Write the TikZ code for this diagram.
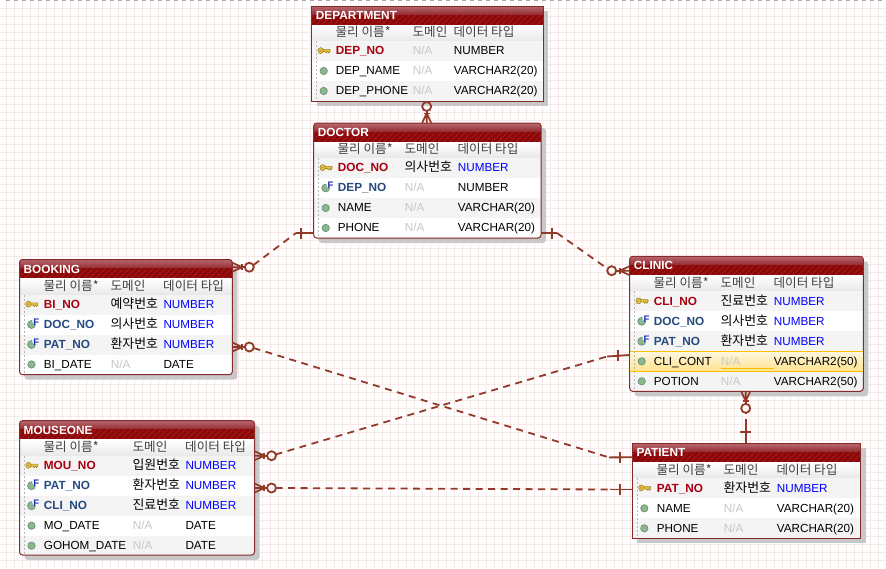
\documentclass[tikz,border=0pt]{standalone}
\usepackage{fontspec}
\setmainfont{Liberation Sans}
\newfontfamily\krfont{Noto Sans CJK KR}
\usetikzlibrary{patterns.meta}
\definecolor{gridc}{HTML}{F8E9E9}
\definecolor{relc}{HTML}{913A2A}
\definecolor{edgec}{HTML}{862A2A}
\definecolor{shadowc}{HTML}{C8C8C8}
\definecolor{titletop}{HTML}{B8686E}
\definecolor{titlemid}{HTML}{952F35}
\definecolor{titlelow}{HTML}{8A0808}
\definecolor{stripec}{HTML}{A01818}
\definecolor{rowc}{HTML}{F4F4F4}
\definecolor{pkc}{HTML}{A80010}
\definecolor{fkc}{HTML}{264A80}
\definecolor{nac}{HTML}{C8C8C8}
\definecolor{hdrc}{HTML}{404040}
\definecolor{ballc}{HTML}{8DB68F}
\definecolor{balle}{HTML}{5F8F70}
\definecolor{keyc}{HTML}{EBC242}
\definecolor{keye}{HTML}{A08428}
\definecolor{hilite}{HTML}{FFC000}
\tikzset{
  x=1pt,y=-1pt,
  gridline/.style={gridc,line width=1pt},
  tablebox/.style={draw=edgec,line width=1pt,inner sep=0pt,outer sep=0pt,anchor=north west},
  titletext/.style={font=\bfseries\fontsize{11.8}{12}\selectfont,white,anchor=base west,inner sep=0pt},
  hdrtext/.style={font=\krfont\fontsize{12.6}{12}\selectfont,hdrc,anchor=base west,inner sep=0pt},
  celltext/.style={font=\fontsize{11.7}{12}\selectfont,anchor=base west,inner sep=0pt},
  celltextb/.style={font=\bfseries\fontsize{11.8}{12}\selectfont,anchor=base west,inner sep=0pt},
  domtext/.style={font=\krfont\fontsize{12.9}{12}\selectfont,anchor=base west,inner sep=0pt},
  rel/.style={relc,line width=1.8pt},
  reldash/.style={rel,dash pattern=on 7pt off 5.5pt},
}
% \ertablestart{id}{title}{x0}{y0}{x1}{y1}{radius}{namex}{domx}{typex}{nrows}
\newcommand{\ertablestart}[6]{\gdef\curid{#1}\gdef\curtitle{#2}%
  \gdef\curxa{#3}\gdef\curya{#4}\gdef\curxb{#5}\gdef\curyb{#6}\ertablecont}
\newcommand{\ertablecont}[5]{%
  \gdef\curnx{#2}\gdef\curdx{#3}\gdef\curtx{#4}\gdef\currow{0}%
  \pgfmathsetmacro{\tmid}{\curya+8}%
  \pgfmathsetmacro{\tend}{\curya+19}%
  \pgfmathsetmacro{\hend}{\curya+35}%
  \xdef\curhend{\hend}%
  \fill[shadowc,rounded corners=#1] (\curxa+5,\curya+5) rectangle (\curxb+5,\curyb+5);
  \begin{scope}
    \clip[rounded corners=#1] (\curxa,\curya) rectangle (\curxb,\curyb);
    \fill[white] (\curxa,\curya) rectangle (\curxb,\curyb);
    \fill[titlelow] (\curxa,\tmid) rectangle (\curxb,\tend);
    \fill[pattern={Lines[angle=45,distance=4pt,line width=1.6pt]},pattern color=stripec] (\curxa,\tmid) rectangle (\curxb,\tend);
    \shade[top color=titletop,bottom color=titlemid] (\curxa,\curya) rectangle (\curxb,\tmid);
    \shade[top color=white,bottom color=black!9] (\curxa,\tend) rectangle (\curxb,\hend);
    \foreach \r in {1,3,...,#5}{
      \fill[rowc] (\curxa,\hend+20*\r-20) rectangle (\curxb,\hend+20*\r);
    }
  \end{scope}
  \draw[black!28,line width=1pt,dash pattern=on 2pt off 2pt] (\curxa+5,\hend) -- (\curxa+5,\curyb);
  \pgfmathsetmacro{\bw}{\curxb-\curxa}%
  \pgfmathsetmacro{\bh}{\curyb-\curya}%
  \node[tablebox,rounded corners=#1,minimum width=\bw pt,minimum height=\bh pt] (\curid) at (\curxa,\curya) {};
  \node[titletext] (\curid-title) at (\curxa+4,\curya+13.5) {\curtitle};
  \node[hdrtext] (\curid-h1) at (\curnx-.3,\tend+11.7) {물리 이름*};
  \node[hdrtext] (\curid-h2) at (\curdx-.3,\tend+11.7) {도메인};
  \node[hdrtext] (\curid-h3) at (\curtx-.3,\tend+11.7) {데이터 타입};
}
% \ertrow{k|f|o}{name}{domain or empty}{type}
\newcommand{\ertrow}[4]{%
  \pgfmathtruncatemacro{\nr}{\currow+1}\xdef\currow{\nr}%
  \pgfmathsetmacro{\ry}{\curhend+20*\nr-20}%
  \pgfmathsetmacro{\rc}{\ry+10}%
  \pgfmathsetmacro{\rb}{\ry+13.8}%
  \pgfmathsetmacro{\ix}{\curxa+12.3}%
  \def\kindarg{#1}\def\kk{k}\def\kf{f}%
  \ifx\kindarg\kk
    \fill[keyc,draw=keye,line width=.6pt] (\ix-1.5,\rc-1.6) -- (\ix+6,\rc-1.6) -- (\ix+6,\rc+.5) -- (\ix+4.8,\rc+2) -- (\ix+3.6,\rc+.5) -- (\ix+2.4,\rc+2) -- (\ix+1.2,\rc+.5) -- (\ix-1.5,\rc+.5) -- cycle;
    \fill[keyc,draw=keye,line width=.6pt] (\ix-3.4,\rc-.4) ellipse[x radius=2.6pt,y radius=3pt];
    \fill[keye] (\ix-3.8,\rc-.4) circle[radius=.8pt];
    \node[celltextb,pkc] (\curid-r\nr-n) at (\curnx,\rb) {#2};
  \else\ifx\kindarg\kf
    \fill[ballc,draw=balle,line width=.6pt] (\ix-.3,\rc) circle[radius=4pt];
    \fill[white] (\ix+3.8,\rc-3.4) circle[radius=3.4pt];
    \node[inner sep=0pt,anchor=base west,font=\bfseries\fontsize{9.5}{9}\selectfont,fkc!60!blue] (\curid-r\nr-f) at (\ix+1.3,\rc+0.8) {F};
    \node[celltextb,fkc] (\curid-r\nr-n) at (\curnx,\rb) {#2};
  \else
    \fill[ballc,draw=balle,line width=.6pt] (\ix-.3,\rc) circle[radius=3.7pt];
    \node[celltext,black] (\curid-r\nr-n) at (\curnx,\rb) {#2};
  \fi\fi
  \def\domarg{#3}%
  \ifx\domarg\empty
    \node[celltext,nac] (\curid-r\nr-d) at (\curdx,\rb) {N/A};
    \node[celltext,black] (\curid-r\nr-t) at (\curtx,\rb) {#4};
  \else
    \node[domtext,black] (\curid-r\nr-d) at (\curdx-.3,\rb) {#3};
    \node[celltext,blue] (\curid-r\nr-t) at (\curtx,\rb) {#4};
  \fi
}
% crow's foot with circle at table edge point #2, pointing away at angle #3
\newcommand{\linkcrow}[3][17]{%
  \begin{scope}[shift={(#2)},rotate=#3]
    \draw[rel,line width=1.7pt] (0,0) -- (10,0) (0,4.5) -- (10,0) (0,-4.5) -- (10,0);
    \draw[rel,line width=1.6pt] (9.5,-3.2) -- (9.5,3.2);
    \draw[rel] (10,0) -- (#1-4.5,0);
    \draw[rel] (#1,0) circle[radius=4.5pt];
  \end{scope}}
% one-bar at distance #3 from table edge point #1
\newcommand{\linkbar}[3]{%
  \begin{scope}[shift={(#1)},rotate=#2]
    \draw[rel] (#3,-5.5) -- (#3,5.5);
  \end{scope}}
\begin{document}
\begin{tikzpicture}
\useasboundingbox (0,0) rectangle (886,568);
\fill[white] (0,0) rectangle (886,568);
\begin{scope}
  \clip (0,0) rectangle (886,568);
  \foreach \gx in {6.5,14.5,...,886} \draw[gridline] (\gx,0) -- (\gx,568);
  \foreach \gy in {8.5,16.5,...,568} \draw[gridline] (0,\gy) -- (886,\gy);
  \draw[black!35,line width=1pt,dash pattern=on 4pt off 4pt] (6,0.5) -- (886,0.5);
\end{scope}

% ---- tables
\ertablestart{department}{DEPARTMENT}{311.7}{6}{543.3}{101}{0pt}{335.7}{412.7}{453.7}{3}
\ertrow{k}{DEP\_NO}{}{NUMBER}
\ertrow{o}{DEP\_NAME}{}{VARCHAR2(20)}
\ertrow{o}{DEP\_PHONE}{}{VARCHAR2(20)}

\ertablestart{doctor}{DOCTOR}{313.7}{123}{541}{238}{3pt}{337.7}{404.7}{457.7}{4}
\ertrow{k}{DOC\_NO}{의사번호}{NUMBER}
\ertrow{f}{DEP\_NO}{}{NUMBER}
\ertrow{o}{NAME}{}{VARCHAR(20)}
\ertrow{o}{PHONE}{}{VARCHAR(20)}

\ertablestart{booking}{BOOKING}{19.5}{259.5}{232.3}{374.7}{3pt}{43.7}{110.7}{163.3}{4}
\ertrow{k}{BI\_NO}{예약번호}{NUMBER}
\ertrow{f}{DOC\_NO}{의사번호}{NUMBER}
\ertrow{f}{PAT\_NO}{환자번호}{NUMBER}
\ertrow{o}{BI\_DATE}{}{DATE}

\ertablestart{mouseone}{MOUSEONE}{19.5}{420.7}{254.5}{555}{3pt}{43.7}{132.7}{185.3}{5}
\ertrow{k}{MOU\_NO}{입원번호}{NUMBER}
\ertrow{f}{PAT\_NO}{환자번호}{NUMBER}
\ertrow{f}{CLI\_NO}{진료번호}{NUMBER}
\ertrow{o}{MO\_DATE}{}{DATE}
\ertrow{o}{GOHOM\_DATE}{}{DATE}

\ertablestart{clinic}{CLINIC}{629.7}{256.3}{863.3}{391.3}{3pt}{653.7}{720.7}{773.7}{5}
\shade[top color=hilite!12,bottom color=hilite!45] (630.2,351.3) rectangle (862.8,371.3);
\draw[hilite,line width=1pt] (630.2,351.3) -- (862.8,351.3) (630.2,371.3) -- (862.8,371.3);
\draw[hilite,line width=1.4pt] (720.7,368.6) -- (773.7,368.6);
\draw[black!28,line width=1pt,dash pattern=on 2pt off 2pt] (634.7,351.3) -- (634.7,371.3);
\ertrow{k}{CLI\_NO}{진료번호}{NUMBER}
\ertrow{f}{DOC\_NO}{의사번호}{NUMBER}
\ertrow{f}{PAT\_NO}{환자번호}{NUMBER}
\ertrow{o}{CLI\_CONT}{}{VARCHAR2(50)}
\ertrow{o}{POTION}{}{VARCHAR2(50)}

\ertablestart{patient}{PATIENT}{632.3}{443.3}{860.7}{538.3}{0pt}{656.7}{723.7}{776.7}{3}
\ertrow{k}{PAT\_NO}{환자번호}{NUMBER}
\ertrow{o}{NAME}{}{VARCHAR(20)}
\ertrow{o}{PHONE}{}{VARCHAR(20)}

% ---- attachment points
\coordinate (depS) at ([xshift=115pt]department.south west);
\coordinate (docN) at ([xshift=113pt]doctor.north west);
\coordinate (docW) at ([yshift=5pt]doctor.south west);
\coordinate (docE) at ([yshift=5pt]doctor.south east);
\coordinate (bkgA) at ([yshift=-7.7pt]booking.north east);
\coordinate (bkgB) at ([yshift=27.7pt]booking.south east);
\coordinate (mouA) at ([yshift=-35pt]mouseone.north east);
\coordinate (mouB) at ([yshift=67pt]mouseone.south east);
\coordinate (cliW) at ([yshift=-14.4pt]clinic.north west);
\coordinate (cliX) at ([yshift=36.3pt]clinic.south west);
\coordinate (cliS) at ([xshift=116pt]clinic.south west);
\coordinate (patA) at ([yshift=-14pt]patient.north west);
\coordinate (patB) at ([yshift=48.8pt]patient.south west);
\coordinate (patN) at ([xshift=113.4pt]patient.north west);
% bends between the dashed and the solid parts
\coordinate (k0a) at (426.7,102);
\coordinate (k1a) at (253.5,265);  \coordinate (k1b) at (296,233);
\coordinate (k2a) at (557,233);    \coordinate (k2b) at (607.5,268.7);
\coordinate (k3a) at (253.5,348);  \coordinate (k3b) at (609,457.4);
\coordinate (k4a) at (275.5,454.5);\coordinate (k4b) at (607,356.5);
\coordinate (k5a) at (275.5,488);  \coordinate (k5b) at (610,489.5);
\coordinate (k6a) at (745.7,413.5);\coordinate (k6b) at (745.7,419);
\coordinate (k6c) at (745.7,412.8);

% ---- connectors
% DEPARTMENT - DOCTOR
\linkcrow[16.5]{docN}{90}
\draw[rel] (depS) -- (k0a);
% BOOKING - DOCTOR
\linkcrow{bkgA}{0}
\draw[reldash] (k1a) -- (k1b);
\draw[rel] (k1b) -- (docW);
\linkbar{docW}{180}{12.5}
% DOCTOR - CLINIC
\draw[rel] (docE) -- (k2a);
\linkbar{docE}{0}{11}
\draw[reldash] (k2a) -- (k2b);
\linkcrow[18]{cliW}{180}
% BOOKING - PATIENT
\linkcrow{bkgB}{0}
\draw[reldash] (k3a) -- (k3b);
\draw[rel] (k3b) -- (patA);
\linkbar{patA}{180}{12.5}
% MOUSEONE - CLINIC
\linkcrow{mouA}{0}
\draw[reldash] (k4a) -- (k4b);
\draw[rel] (k4b) -- (cliX);
\linkbar{cliX}{180}{12}
% MOUSEONE - PATIENT
\linkcrow{mouB}{0}
\draw[reldash] (k5a) -- (k5b);
\draw[rel] (k5b) -- (patB);
\linkbar{patB}{180}{12}
% CLINIC - PATIENT
\linkcrow{cliS}{-90}
\draw[rel] (k6c) -- (k6a);
\draw[rel] (k6b) -- (patN);
\linkbar{patN}{90}{11.6}
\end{tikzpicture}
\end{document}
